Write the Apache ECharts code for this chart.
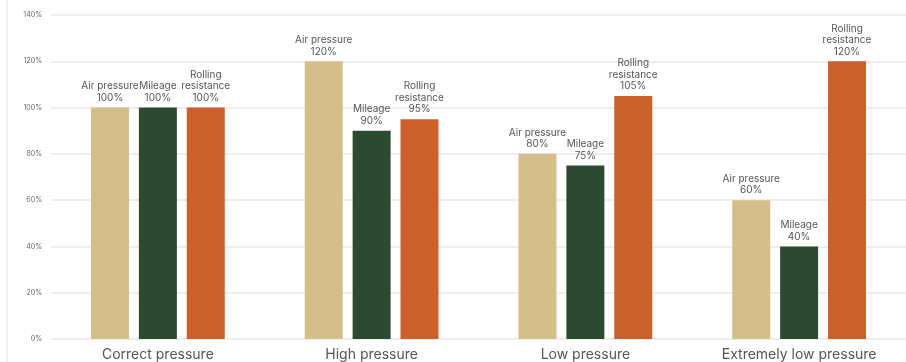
<!DOCTYPE html>
<html><head><meta charset="utf-8">
<script src="https://cdn.jsdelivr.net/npm/echarts@6/dist/echarts.min.js"></script>
<style>html,body{margin:0;padding:0;background:#fff}#c{width:906px;height:362px}</style>
</head><body><div id="c"></div>
<script>
var categories = ['Correct pressure', 'High pressure', 'Low pressure', 'Extremely low pressure'];
var seriesNames = ['Air pressure', 'Mileage', 'Rolling resistance'];
var airPressure = [100, 120, 80, 60];
var mileage = [100, 90, 75, 40];
var rollingResistance = [100, 95, 105, 120];
var labelNames = ['Air pressure', 'Mileage', 'Rolling\nresistance'];
var colors = ['#D4BE8A', '#2C4A30', '#CC5F2A'];

var chart = echarts.init(document.getElementById('c'));
function mk(i, data) {
  return {
    name: seriesNames[i], type: 'bar', data: data,
    barWidth: 38, barGap: '26%',
    itemStyle: { color: colors[i] },
    label: {
      show: true, position: 'top', distance: 4,
      fontFamily: 'Inter', fontSize: 10, lineHeight: 11.5, color: '#555', align: 'center',
      formatter: function (p) { return labelNames[i] + '\n' + p.value + '%'; }
    }
  };
}
chart.setOption({
  animation: false,
  grid: { left: 51, width: 864, top: 15, bottom: 22, containLabel: false },
  graphic: [{ type: 'line', shape: { x1: 7, y1: 0, x2: 7, y2: 362 }, style: { stroke: '#e3e3e3', lineWidth: 1 } }],
  xAxis: {
    type: 'category', data: categories,
    axisLine: { show: false }, axisTick: { show: false },
    axisLabel: { fontFamily: 'Inter', fontSize: 14, color: '#555', margin: 9 }
  },
  yAxis: {
    type: 'value', min: 0, max: 140, interval: 20,
    axisLabel: { formatter: '{value}%', fontFamily: 'Inter', fontSize: 7, color: '#666', margin: 9 },
    splitLine: { lineStyle: { color: '#e8e8e8', width: 1.5 } },
    axisLine: { show: false }, axisTick: { show: false }
  },
  series: [mk(0, airPressure), mk(1, mileage), mk(2, rollingResistance)]
});
</script></body></html>
